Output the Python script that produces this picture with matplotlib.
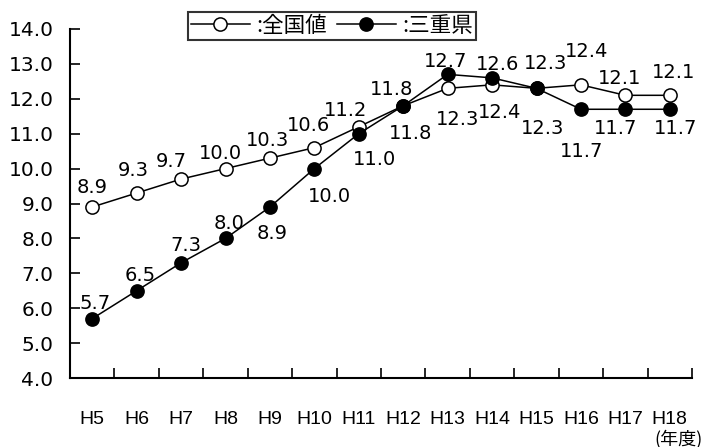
import matplotlib
matplotlib.use("Agg")
import matplotlib.pyplot as plt

years = ["H5", "H6", "H7", "H8", "H9", "H10", "H11", "H12",
         "H13", "H14", "H15", "H16", "H17", "H18"]
zenkoku = [8.9, 9.3, 9.7, 10.0, 10.3, 10.6, 11.2, 11.8,
           12.3, 12.4, 12.3, 12.4, 12.1, 12.1]
mie = [5.7, 6.5, 7.3, 8.0, 8.9, 10.0, 11.0, 11.8,
       12.7, 12.6, 12.3, 11.7, 11.7, 11.7]
yticks = [4.0, 5.0, 6.0, 7.0, 8.0, 9.0, 10.0, 11.0, 12.0, 13.0, 14.0]

# label offsets in pixels (dx, dy up)
off_zen = [(0, 19), (-3, 23), (-10, 18), (-5, 15), (-2, 18), (-6, 22), (-13, 16),
           (-12, 16), (10, -31), (7, -28), (6, -40), (6, 33), (-6, 17), (4, 23)]
off_mie = [(3, 15), (4, 15), (5, 17), (4, 15), (2, -27), (15, -28), (16, -26),
           (7, -28), (-2, 13), (5, 13), (9, 25), (1, -42), (-10, -19), (6, -19)]

num_font = "DejaVu Sans"
jp_font = ["Noto Sans CJK JP", "DejaVu Sans"]

fig = plt.figure(figsize=(7.05, 4.47), dpi=100)
ax = fig.add_axes([70 / 705, 69 / 447, 622 / 705, 349 / 447])

x = list(range(len(years)))
l1, = ax.plot(x, zenkoku, color="black", lw=1.1, marker="o", ms=9.5,
              mfc="white", mec="black", mew=1.1, zorder=3)
l2, = ax.plot(x, mie, color="black", lw=1.1, marker="o", ms=9.5,
              mfc="black", mec="black", mew=1.1, zorder=4)

for i in x:
    ax.annotate(f"{zenkoku[i]:.1f}", (i, zenkoku[i]), xytext=off_zen[i],
                textcoords="offset pixels", ha="center", va="center",
                fontsize=14, family=num_font)
    ax.annotate(f"{mie[i]:.1f}", (i, mie[i]), xytext=off_mie[i],
                textcoords="offset pixels", ha="center", va="center",
                fontsize=14, family=num_font)

ax.set_xlim(-0.5, len(years) - 0.5)
ax.set_ylim(4, 14)
ax.set_yticks(yticks)
ax.set_yticklabels([f"{v:.1f}" for v in yticks], family=num_font, fontsize=14.5)
ax.set_xticks(x)
ax.set_xticklabels(years, family="Liberation Sans", fontsize=14)
ax.set_xticks([i - 0.5 for i in range(len(years) + 1)], minor=True)
ax.tick_params(axis="x", which="major", length=0, pad=24)
ax.tick_params(axis="x", which="minor", direction="in", length=7, width=1.2)
ax.tick_params(axis="y", direction="in", length=7, width=1.2, pad=12)
for s in ["top", "right"]:
    ax.spines[s].set_visible(False)
for s in ["left", "bottom"]:
    ax.spines[s].set_linewidth(1.5)

fig.text(703 / 705, 1 - 439 / 447, "(年度)", ha="right", va="center",
         fontsize=13, family=jp_font)

leg = fig.legend([l1, l2], [":全国値", ":三重県"], loc="center",
                 bbox_to_anchor=(332 / 705, 1 - 26 / 447), ncol=2,
                 prop={"family": jp_font, "size": 15.5}, frameon=True,
                 fancybox=False, edgecolor="black", handlelength=2.7,
                 handletextpad=0.3, columnspacing=0.5, borderpad=0.15,
                 borderaxespad=0, numpoints=1)
leg.get_frame().set_linewidth(1.5)

fig.savefig("out.png", dpi=100)
